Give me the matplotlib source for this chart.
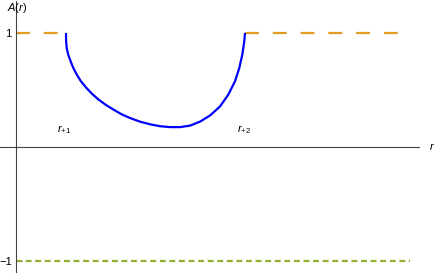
import numpy as np
import matplotlib.pyplot as plt

plt.rcParams['font.family'] = ['Liberation Sans', 'DejaVu Sans']
plt.rcParams['mathtext.fontset'] = 'custom'
plt.rcParams['mathtext.rm'] = 'Liberation Sans'
plt.rcParams['mathtext.it'] = 'Liberation Sans:italic'
plt.rcParams['lines.scale_dashes'] = False

# horizon radii
r_p1 = 1.0
r_p2 = 4.58
r_max = 7.88

# A(r) between the horizons
r_mid = [1.0, 1.002, 1.014, 1.046, 1.094, 1.146, 1.214, 1.294, 1.40, 1.514,
         1.646, 1.80, 1.96, 2.12, 2.28, 2.48, 2.68, 2.88, 3.08, 3.28,
         3.48, 3.68, 3.88, 4.08, 4.246, 4.38, 4.466, 4.526, 4.566, 4.58]
A_mid = [1.0, 0.930, 0.868, 0.807, 0.750, 0.693, 0.636, 0.579, 0.522, 0.469,
         0.417, 0.368, 0.325, 0.285, 0.254, 0.222, 0.199, 0.182, 0.174, 0.174,
         0.187, 0.222, 0.276, 0.355, 0.459, 0.576, 0.693, 0.810, 0.927, 1.0]

orange = '#E19C24'
green = '#8FB032'

fig = plt.figure(figsize=(4.36, 2.75), dpi=100)
ax = fig.add_axes([0, 0, 1, 1])
ax.set_xlim(-0.32, 8.4)
ax.set_ylim(-1.123, 1.289)

ax.plot([0, r_p1], [1, 1], color=orange, lw=1.6, linestyle=(0, (10, 10)))
ax.plot([r_p2, r_max], [1, 1], color=orange, lw=1.6, linestyle=(0, (10, 10)))
ax.plot(r_mid, A_mid, color='#0000FF', lw=1.6, solid_capstyle='butt',
        solid_joinstyle='round')
ax.plot([0, r_max], [-1, -1], color=green, lw=1.6, linestyle=(0, (4.3, 2.6)))

for s in ['top', 'right']:
    ax.spines[s].set_visible(False)
ax.spines['left'].set_position(('data', 0))
ax.spines['bottom'].set_position(('data', 0))
ax.spines['bottom'].set_bounds(-0.32, 8.06)
ax.spines['left'].set_bounds(-1.1, 1.28)
for s in ['left', 'bottom']:
    ax.spines[s].set_color('#444444')
    ax.spines[s].set_linewidth(0.8)

ax.set_xticks([])
ax.set_yticks([1, -1])
ax.set_yticklabels(['1', '\u22121'])
ax.tick_params(axis='y', direction='in', length=4, width=0.8, color='#444444',
               labelsize=8, pad=3)

ax.text(0.02, 1.22, r'$A(r)$', fontsize=8, ha='center', va='center')
ax.text(8.32, 0.0, r'$r$', fontsize=8, ha='center', va='center')
ax.text(0.96, 0.15, r'$r_{+1}$', fontsize=8, ha='center', va='center')
ax.text(4.56, 0.15, r'$r_{+2}$', fontsize=8, ha='center', va='center')

fig.savefig('out.png', dpi=100)
